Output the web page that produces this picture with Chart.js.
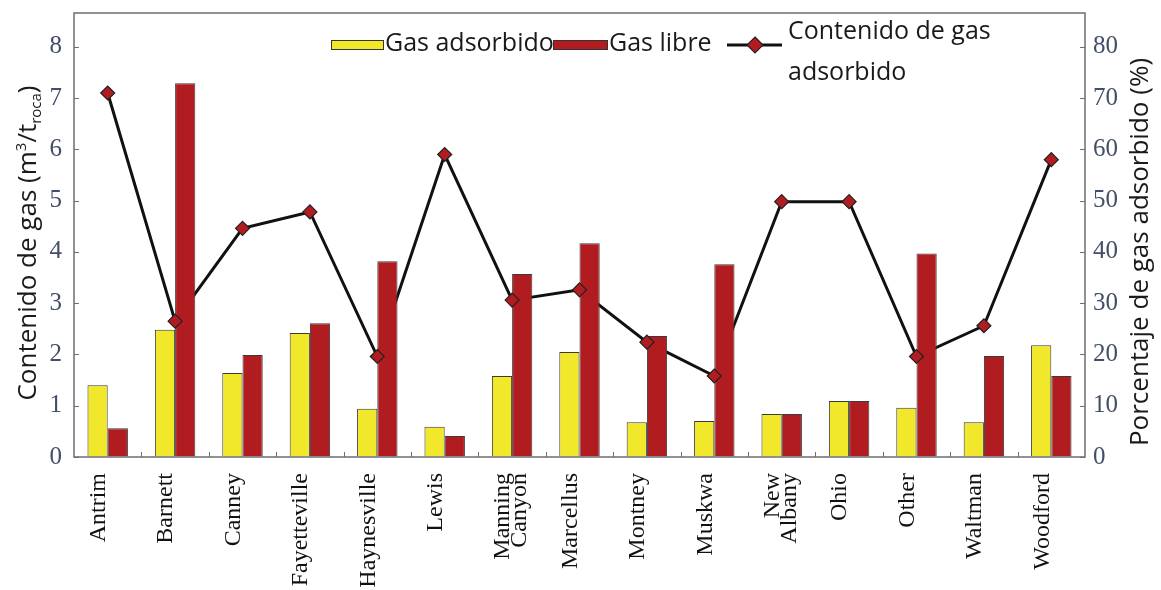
<!DOCTYPE html>
<html lang="es">
<head>
<meta charset="UTF-8">
<script src="https://cdn.jsdelivr.net/npm/chart.js@4.4.0/dist/chart.umd.min.js"></script>
<title>Contenido de gas</title>
<style>
  html, body { margin: 0; padding: 0; background: #fff; }
  .container { width: 1161px; height: 590px; position: relative; }
</style>
</head>
<body>
<div class="container">
  <canvas id="myChart" width="1161" height="590"></canvas>
</div>
<script>
// datos
const shales = ['Antrim', 'Barnett', 'Canney', 'Fayetteville', 'Haynesville', 'Lewis', ['Manning', 'Canyon'],
  'Marcellus', 'Montney', 'Muskwa', ['New', 'Albany'], 'Ohio', 'Other', 'Waltman', 'Woodford'];
const gasAdsorbido = [1.40, 2.48, 1.64, 2.42, 0.94, 0.59, 1.58, 2.05, 0.68, 0.70, 0.84, 1.09, 0.96, 0.68, 2.18];
const gasLibre = [0.56, 7.29, 1.99, 2.61, 3.82, 0.41, 3.57, 4.17, 2.36, 3.76, 0.84, 1.09, 3.97, 1.97, 1.58];
const porcentajeAdsorbido = [71, 26.5, 44.6, 47.8, 19.6, 59, 30.6, 32.6, 22.4, 15.8, 49.8, 49.8, 19.6, 25.6, 58];
const leftTicks = [0, 1, 2, 3, 4, 5, 6, 7, 8];
const rightTicks = [0, 10, 20, 30, 40, 50, 60, 70, 80];

const YELLOW = '#f2e82b';
const RED = '#b01c20';
const TICK_COLOR = '#434e68';

const extras = {
  id: 'extras',
  afterDraw(chart) {
    const ctx = chart.ctx;
    const a = chart.chartArea;
    const x = chart.scales.x, y = chart.scales.y, y1 = chart.scales.y1;
    ctx.save();
    // marco
    ctx.strokeStyle = '#6e6e6e';
    ctx.lineWidth = 1.5;
    ctx.strokeRect(a.left, a.top, a.right - a.left, a.bottom - a.top);
    // marcas hacia dentro
    ctx.lineWidth = 1;
    ctx.beginPath();
    leftTicks.forEach(v => {
      const p = Math.round(y.getPixelForValue(v)) + 0.5;
      ctx.moveTo(a.left, p); ctx.lineTo(a.left + 5, p);
    });
    rightTicks.forEach(v => {
      const p = Math.round(y1.getPixelForValue(v)) + 0.5;
      ctx.moveTo(a.right - 5, p); ctx.lineTo(a.right, p);
    });
    for (let i = 1; i < shales.length; i++) {
      const p = Math.round((x.getPixelForValue(i - 1) + x.getPixelForValue(i)) / 2) + 0.5;
      ctx.moveTo(p, a.bottom); ctx.lineTo(p, a.bottom - 5);
    }
    ctx.stroke();

    // titulo eje izquierdo con super/subindice
    ctx.fillStyle = '#1a1a1a';
    ctx.textBaseline = 'alphabetic';
    const parts = [
      { t: 'Contenido de gas (m', s: 26, dy: 0 },
      { t: '3', s: 15, dy: -10 },
      { t: '/t', s: 26, dy: 0 },
      { t: 'roca', s: 15, dy: 5 },
      { t: ')', s: 26, dy: 0 }
    ];
    let total = 0;
    parts.forEach(p => { ctx.font = p.s + 'px "Open Sans"'; p.w = ctx.measureText(p.t).width; total += p.w; });
    ctx.translate(27, 243);
    ctx.rotate(-Math.PI / 2);
    let cx = -total / 2;
    parts.forEach(p => {
      ctx.font = p.s + 'px "Open Sans"';
      ctx.fillText(p.t, cx, 9 + p.dy);
      cx += p.w;
    });
    ctx.setTransform(1, 0, 0, 1, 0, 0);

    // titulo eje derecho
    ctx.translate(1139, 252);
    ctx.rotate(-Math.PI / 2);
    ctx.font = '26px "Open Sans"';
    ctx.textAlign = 'center';
    ctx.fillText('Porcentaje de gas adsorbido (%)', 0, 9);
    ctx.setTransform(1, 0, 0, 1, 0, 0);

    // leyenda
    ctx.textAlign = 'left';
    ctx.textBaseline = 'middle';
    ctx.font = '25px "Open Sans"';
    ctx.fillStyle = YELLOW; ctx.strokeStyle = '#333';
    ctx.fillRect(331, 40, 52, 9); ctx.strokeRect(331.5, 40.5, 52, 9);
    ctx.fillStyle = '#1a1a1a';
    ctx.fillText('Gas adsorbido', 385, 44);
    ctx.fillStyle = RED;
    ctx.fillRect(553, 40, 54, 9); ctx.strokeRect(553.5, 40.5, 54, 9);
    ctx.fillStyle = '#1a1a1a';
    ctx.fillText('Gas libre', 609, 44);
    ctx.strokeStyle = '#111'; ctx.lineWidth = 3;
    ctx.beginPath(); ctx.moveTo(727, 45); ctx.lineTo(782, 45); ctx.stroke();
    ctx.fillStyle = RED; ctx.strokeStyle = '#222'; ctx.lineWidth = 1.2;
    ctx.beginPath();
    ctx.moveTo(755, 37); ctx.lineTo(763, 45); ctx.lineTo(755, 53); ctx.lineTo(747, 45); ctx.closePath();
    ctx.fill(); ctx.stroke();
    ctx.fillStyle = '#1a1a1a';
    ctx.fillText('Contenido de gas', 788, 32);
    ctx.fillText('adsorbido', 788, 73);
    ctx.restore();
  }
};

const chart = new Chart(document.getElementById('myChart').getContext('2d'), {
  type: 'bar',
  data: {
    labels: shales,
    datasets: [
      {
        label: 'Gas adsorbido',
        data: gasAdsorbido,
        backgroundColor: YELLOW,
        borderColor: '#3a3a3a',
        borderWidth: 1,
        categoryPercentage: 0.6,
        barPercentage: 1.0,
        yAxisID: 'y',
        order: 1
      },
      {
        label: 'Gas libre',
        data: gasLibre,
        backgroundColor: RED,
        borderColor: '#3a3a3a',
        borderWidth: 1,
        categoryPercentage: 0.6,
        barPercentage: 1.0,
        yAxisID: 'y',
        order: 1
      },
      {
        // linea detras de las barras
        type: 'line',
        label: 'Contenido de gas adsorbido',
        data: porcentajeAdsorbido,
        borderColor: '#111',
        borderWidth: 3,
        pointRadius: 0,
        tension: 0,
        yAxisID: 'y1',
        order: 3
      },
      {
        // rombos encima de las barras
        type: 'line',
        label: 'Contenido de gas adsorbido (puntos)',
        data: porcentajeAdsorbido,
        showLine: false,
        pointStyle: 'rectRot',
        pointRadius: 7,
        pointBackgroundColor: RED,
        pointBorderColor: '#222',
        pointBorderWidth: 1.2,
        yAxisID: 'y1',
        order: 0
      }
    ]
  },
  options: {
    responsive: false,
    animation: false,
    layout: { padding: 0 },
    plugins: { legend: { display: false }, tooltip: { enabled: false } },
    scales: {
      x: {
        grid: { display: false },
        border: { display: false },
        ticks: {
          autoSkip: false,
          maxRotation: 90,
          minRotation: 90,
          padding: 8,
          labelOffset: -9,
          color: '#111',
          font: { family: '"Liberation Serif"', size: 24, lineHeight: 0.7 }
        },
        afterFit(scale) { scale.height = 133; }
      },
      y: {
        position: 'left',
        min: 0,
        max: 8.66,
        grid: { drawOnChartArea: false, drawTicks: false },
        border: { display: false },
        ticks: { padding: 12, color: TICK_COLOR, font: { family: '"Liberation Serif"', size: 25 } },
        afterBuildTicks(scale) { scale.ticks = leftTicks.map(v => ({ value: v })); },
        afterFit(scale) { scale.width = 74; scale.paddingTop = 13; scale.paddingBottom = 0; }
      },
      y1: {
        position: 'right',
        min: 0,
        max: 86.6,
        grid: { drawOnChartArea: false, drawTicks: false },
        border: { display: false },
        ticks: { padding: 8, color: TICK_COLOR, font: { family: '"Liberation Serif"', size: 25 } },
        afterBuildTicks(scale) { scale.ticks = rightTicks.map(v => ({ value: v })); },
        afterFit(scale) { scale.width = 76; scale.paddingTop = 13; scale.paddingBottom = 0; }
      }
    }
  },
  plugins: [extras]
});
</script>
</body>
</html>
